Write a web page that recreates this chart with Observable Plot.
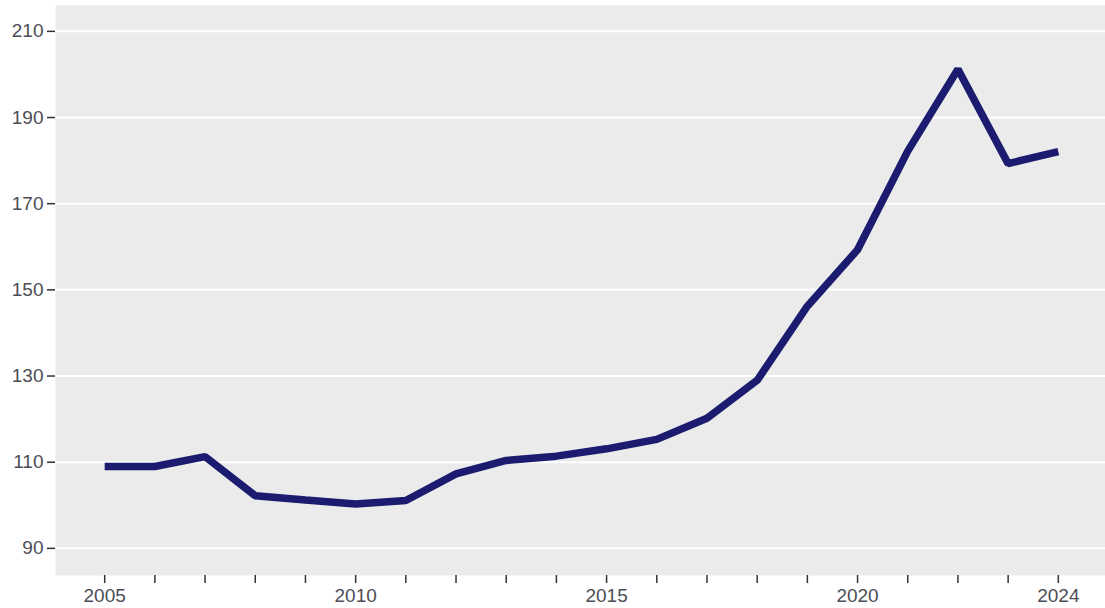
<!DOCTYPE html>
<html>
<head>
<meta charset="utf-8">
<script src="https://cdn.jsdelivr.net/npm/d3@7"></script>
<script src="https://cdn.jsdelivr.net/npm/@observablehq/plot@0.6"></script>
<style>
  html, body { margin: 0; padding: 0; background: #ffffff; }
  #chart { width: 1105px; height: 608px; }
  svg { font-family: "Liberation Sans", Arial, sans-serif; }
</style>
</head>
<body>
<div id="chart"></div>
<script>
const years = [2005, 2006, 2007, 2008, 2009, 2010, 2011, 2012, 2013, 2014,
               2015, 2016, 2017, 2018, 2019, 2020, 2021, 2022, 2023, 2024];
const values = [109, 109, 111.3, 102.2, 101.2, 100.3, 101.1, 107.3, 110.4, 111.4,
                113.1, 115.3, 120.2, 129, 146.2, 159.3, 182.2, 201.2, 179.3, 182.1];
const xTickYears = years;
const xLabelYears = [2005, 2010, 2015, 2020, 2024];
const yTicks = [90, 110, 130, 150, 170, 190, 210];

const data = years.map((y, i) => ({year: y, value: values[i]}));

const chart = Plot.plot({
  width: 1105,
  height: 608,
  marginLeft: 55,
  marginRight: 0,
  marginTop: 5,
  marginBottom: 33,
  style: {fontSize: "19px", fontFamily: "'Liberation Sans', Arial, sans-serif", background: "#ffffff"},
  x: {domain: [2004.02, 2024.94]},
  y: {domain: [83.7, 216]},
  marks: [
    Plot.frame({fill: "#ebebeb", stroke: null}),
    Plot.gridY(yTicks, {stroke: "#ffffff", strokeOpacity: 1, strokeWidth: 2}),
    Plot.axisY(yTicks, {tickSize: 8, tickPadding: 4, stroke: "#333333", strokeWidth: 1.5, color: "#4d4d55", label: null}),
    Plot.axisX(xTickYears, {
      tickSize: 8, tickPadding: 5, stroke: "#333333", strokeWidth: 1.5, color: "#4d4d55", label: null,
      tickFormat: d => xLabelYears.includes(d) ? String(d) : ""
    }),
    Plot.line(data, {x: "year", y: "value", stroke: "#1b1b6f", strokeWidth: 7.5,
                     strokeLinejoin: "miter", strokeLinecap: "butt"})
  ]
});
document.getElementById("chart").appendChild(chart);
</script>
</body>
</html>
